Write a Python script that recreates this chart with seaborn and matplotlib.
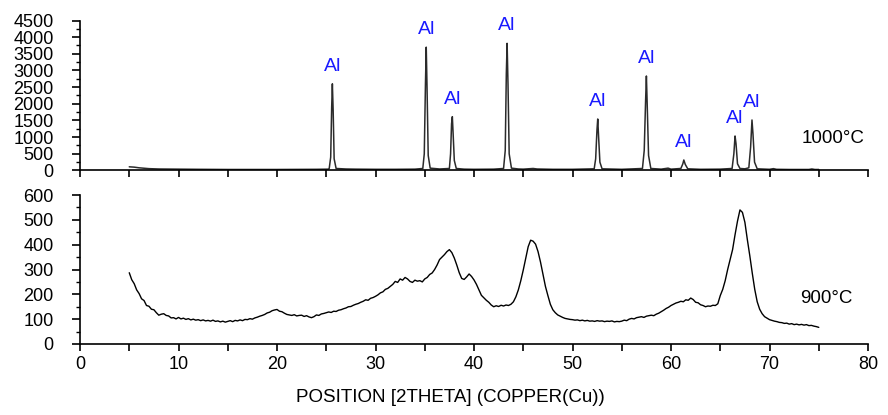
import numpy as np
import pandas as pd
import matplotlib
matplotlib.use("Agg")
import matplotlib.pyplot as plt
from matplotlib.ticker import MultipleLocator
import seaborn as sns

# 1000 °C pattern: (2θ, counts)
theta_1000 = [
    5.0, 5.5, 6.0, 7.0, 8.0, 10.0, 12.0, 15.0, 20.0, 24.0, 25.2,
    25.3, 25.45, 25.55, 25.62, 25.7, 25.8, 26.0, 27.0, 28.0, 30.0, 32.0, 34.0,
    34.8, 34.95, 35.07, 35.15, 35.23, 35.35, 35.55, 36.5,
    37.5, 37.62, 37.72, 37.8, 37.88, 38.0, 38.2, 39.0, 40.0, 42.0,
    43.0, 43.17, 43.28, 43.36, 43.45, 43.57, 43.8, 44.5, 45.0, 46.0, 46.4, 48.0, 50.0,
    52.2, 52.35, 52.48, 52.56, 52.65, 52.78, 53.0, 55.0,
    57.1, 57.28, 57.42, 57.5, 57.58, 57.72, 57.95, 59.0, 59.7, 60.0,
    61.0, 61.2, 61.3, 61.45, 61.7, 63.0, 65.0,
    66.2, 66.38, 66.5, 66.6, 66.75, 67.0, 67.5,
    67.9, 68.08, 68.22, 68.32, 68.48, 68.75, 70.0, 70.4, 70.7, 72.0, 74.0, 74.3, 74.6, 75.0,
]
counts_1000 = [
    110, 100, 80, 55, 45, 40, 35, 30, 30, 35, 40,
    60, 400, 1900, 2600, 1800, 350, 60, 45, 40, 35, 35, 40,
    60, 500, 2600, 3700, 2500, 450, 70, 45,
    60, 500, 1400, 1615, 1100, 300, 60, 40, 35, 40,
    60, 600, 2900, 3815, 2600, 500, 70, 45, 40, 60, 45, 35, 35,
    50, 350, 1200, 1545, 1000, 250, 50, 35,
    60, 600, 2100, 2835, 2000, 450, 60, 40, 70, 40,
    60, 200, 315, 180, 50, 35, 40,
    60, 500, 1035, 800, 200, 60, 50,
    80, 700, 1515, 1100, 250, 50, 35, 55, 35, 30, 30, 45, 30, 30,
]
al_peaks = [25.6, 35.15, 37.8, 43.36, 52.56, 57.5, 61.3, 66.5, 68.22]

# 900 °C pattern, step 0.25° from 5° to 75°
theta_900 = np.round(np.arange(5.0, 75.001, 0.25), 2)
counts_900 = [
    287, 259, 243, 218, 203, 182, 175, 155, 152, 140, 138, 126, 116, 120, 122, 115, 113, 105, 106, 101,
    107, 101, 104, 99, 102, 97, 100, 96, 98, 94, 97, 93, 95, 92, 96, 91, 93, 89, 92, 88,
    91, 94, 90, 95, 93, 97, 94, 99, 98, 102, 100, 105, 108, 112, 115, 119, 125, 128, 134, 137,
    139, 132, 130, 124, 119, 117, 115, 118, 113, 115, 116, 111, 114, 109, 106, 110, 117, 115, 121, 123,
    126, 129, 127, 132, 131, 136, 138, 142, 145, 150, 151, 156, 160, 163, 168, 172, 178, 176, 184, 187,
    192, 198, 206, 210, 220, 224, 232, 240, 252, 248, 262, 257, 268, 262, 252, 248, 257, 253, 255, 250,
    262, 268, 280, 286, 300, 318, 340, 350, 360, 372, 380, 368, 346, 318, 287, 264, 260, 270, 282, 272,
    258, 240, 218, 196, 186, 176, 168, 157, 150, 154, 151, 156, 153, 157, 155, 160, 170, 190, 218, 255,
    298, 345, 392, 418, 414, 402, 372, 330, 280, 232, 195, 160, 138, 126, 117, 112, 107, 103, 101, 99,
    98, 96, 97, 94, 96, 93, 95, 92, 93, 91, 94, 92, 93, 90, 92, 91, 93, 89, 91, 90,
    92, 96, 94, 100, 103, 101, 106, 108, 110, 107, 112, 114, 116, 114, 120, 124, 130, 136, 143, 148,
    155, 160, 165, 168, 172, 170, 178, 176, 185, 179, 168, 166, 158, 155, 150, 153, 152, 156, 155, 162,
    195, 220, 255, 300, 340, 380, 440, 495, 540, 530, 490, 420, 355, 285, 220, 170, 140, 122, 110, 104,
    98, 95, 92, 90, 87, 86, 83, 84, 80, 82, 78, 80, 77, 79, 76, 78, 74, 75, 72, 70,
    67,
]

df_1000 = pd.DataFrame({"theta": theta_1000, "counts": counts_1000})
df_900 = pd.DataFrame({"theta": theta_900, "counts": counts_900})

sns.set_theme(style="ticks")
plt.rcParams["font.family"] = ["Liberation Sans", "DejaVu Sans"]
plt.rcParams["axes.linewidth"] = 1.2

fig = plt.figure(figsize=(8.88, 4.15), dpi=100)
ax1 = fig.add_axes([0.0901, 0.5892, 0.8874, 0.3614])
ax2 = fig.add_axes([0.0901, 0.1711, 0.8874, 0.3590])

sns.lineplot(data=df_1000, x="theta", y="counts", ax=ax1, color="#2b2b2b",
             linewidth=1.1, estimator=None, sort=False)
sns.lineplot(data=df_900, x="theta", y="counts", ax=ax2, color="black",
             linewidth=1.0, estimator=None, sort=False)

for ax in (ax1, ax2):
    sns.despine(ax=ax)
    ax.set_xlim(0, 80)
    ax.set_xlabel("")
    ax.set_ylabel("")
    ax.spines["left"].set_color("black")
    ax.spines["bottom"].set_color("black")

# upper panel
ax1.set_ylim(0, 4500)
ax1.yaxis.set_major_locator(MultipleLocator(500))
ax1.yaxis.set_minor_locator(MultipleLocator(250))
ax1.xaxis.set_major_locator(MultipleLocator(5))
ax1.tick_params(axis="x", which="major", length=5, width=1.2, color="black",
                labelbottom=False)
ax1.tick_params(axis="y", which="major", length=6, width=1.2, color="black",
                pad=13, labelsize=13, labelcolor="black")
ax1.tick_params(axis="y", which="minor", length=3, width=1.0, color="black")

# lower panel
ax2.set_ylim(0, 600)
ax2.yaxis.set_major_locator(MultipleLocator(100))
ax2.yaxis.set_minor_locator(MultipleLocator(50))
ax2.xaxis.set_major_locator(MultipleLocator(10))
ax2.xaxis.set_minor_locator(MultipleLocator(5))
ax2.tick_params(axis="x", which="major", length=5, width=1.2, color="black",
                pad=3.5, labelsize=13, labelcolor="black")
ax2.tick_params(axis="x", which="minor", length=5, width=1.2, color="black")
ax2.tick_params(axis="y", which="major", length=6, width=1.2, color="black",
                pad=13, labelsize=13, labelcolor="black")
ax2.tick_params(axis="y", which="minor", length=3, width=1.0, color="black")

# phase labels above the alumina reflections
th = np.asarray(theta_1000)
ct = np.asarray(counts_1000)
for p in al_peaks:
    near = np.abs(th - p) < 0.3
    h = ct[near].max()
    ax1.annotate("Al", xy=(p, h), xytext=(0, 6.5), textcoords="offset points",
                 ha="center", va="bottom", color="#1a1aff", fontsize=14)

ax1.text(73.3, 945, "1000°C", fontsize=13.5, color="black", va="center", ha="left")
ax2.text(73.1, 185, "900°C", fontsize=13.5, color="black", va="center", ha="left")

fig.text(0.507, 0.041, "POSITION [2THETA] (COPPER(Cu))", fontsize=13.5,
         ha="center", va="center", color="black")

fig.savefig("out.png", dpi=100, facecolor="white")
